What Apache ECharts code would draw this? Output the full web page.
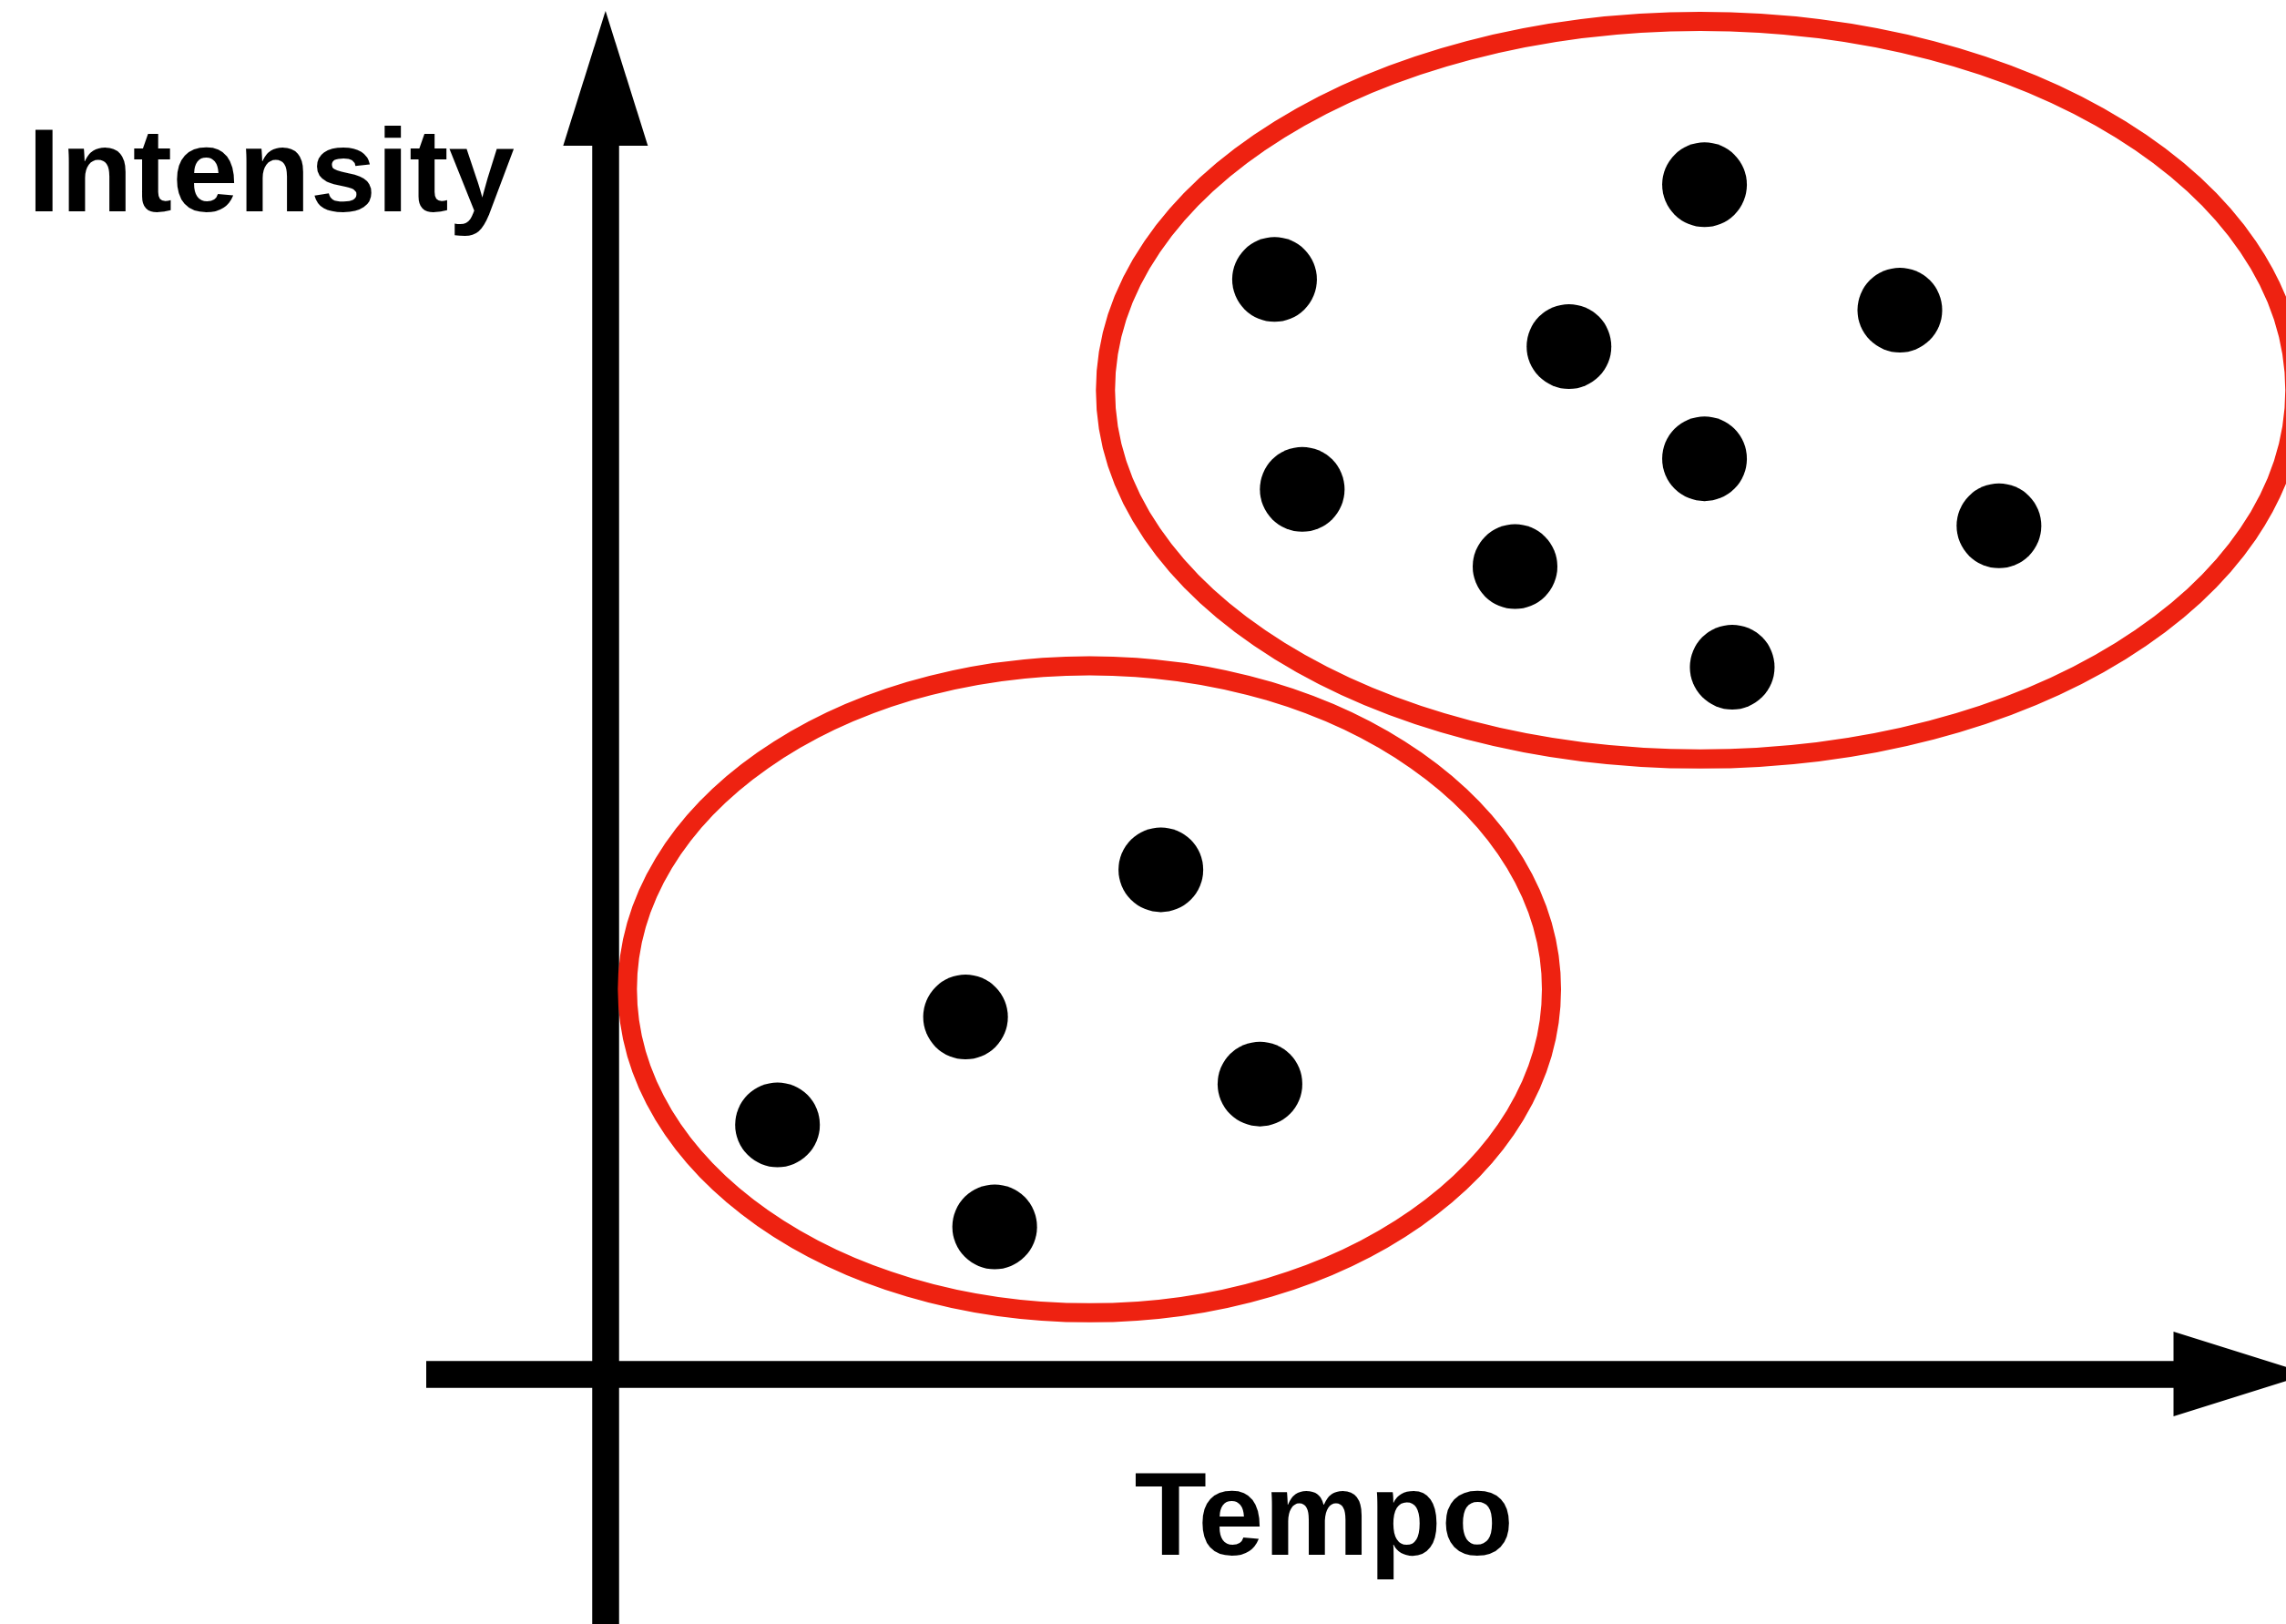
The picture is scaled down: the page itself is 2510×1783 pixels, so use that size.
<!DOCTYPE html>
<html>
<head>
<meta charset="utf-8">
<script src="https://cdn.jsdelivr.net/npm/echarts@6/dist/echarts.min.js"></script>
<style>
html, body { margin: 0; padding: 0; background: #ffffff; }
#chart { width: 2510px; height: 1783px; }
</style>
</head>
<body>
<div id="chart"></div>
<script>
// ---- data ----
const xAxisName = 'Tempo';
const yAxisName = 'Intensity';
const upperClusterPoints = [
  [45.9, 75.1], [75.4, 81.6], [88.8, 73.0], [66.1, 70.5], [47.8, 60.7],
  [75.4, 62.8], [62.4, 55.4], [77.3, 48.5], [95.6, 58.2]
];
const lowerClusterPoints = [
  [38.1, 34.6], [24.7, 24.5], [11.8, 17.1], [44.9, 19.9], [26.7, 10.1]
];
// cluster outlines: centre x, centre y, half-width, half-height (data units)
const clusterEllipses = [
  [75.1, 67.5, 40.8, 25.3],
  [33.2, 26.4, 31.7, 22.2]
];
const xRange = [-12.3, 112.2];
const yRange = [-17.15, 88.9];

// ---- chart ----
const chart = echarts.init(document.getElementById('chart'), null, { renderer: 'canvas' });
const FONT = "'Liberation Sans', Arial, Helvetica, sans-serif";
const RED = '#ee2211';

const axisCommon = {
  type: 'value',
  splitLine: { show: false },
  axisTick: { show: false },
  axisLabel: { show: false },
  axisLine: {
    show: true,
    onZero: true,
    symbol: ['none', 'triangle'],
    symbolSize: [93, 148],
    lineStyle: { color: '#000000', width: 29.5, cap: 'butt' }
  }
};

chart.setOption({
  backgroundColor: '#ffffff',
  animation: false,
  grid: {
    left: 468, right: 49.5, top: 86, bottom: 0,
    containLabel: false,
    outerBoundsMode: 'none'
  },
  xAxis: Object.assign({}, axisCommon, {
    min: xRange[0], max: xRange[1],
    name: xAxisName,
    nameLocation: 'middle',
    nameGap: -177,
    nameTextStyle: {
      fontFamily: FONT, fontWeight: 'bold', fontSize: 130, color: '#000000',
      verticalAlign: 'top',
      padding: [0, 21, 0, 0]
    }
  }),
  yAxis: Object.assign({}, axisCommon, {
    min: yRange[0], max: yRange[1],
    name: yAxisName,
    nameLocation: 'end',
    nameGap: -45,
    nameTextStyle: {
      fontFamily: FONT, fontWeight: 'bold', fontSize: 130, color: '#000000',
      align: 'right', verticalAlign: 'top',
      padding: [0, 100, 0, 0]
    }
  }),
  series: [
    {
      type: 'custom',
      name: 'clusters',
      coordinateSystem: 'cartesian2d',
      clip: false,
      silent: true,
      data: clusterEllipses,
      encode: { x: 0, y: 1 },
      renderItem: function (params, api) {
        const c = api.coord([api.value(0), api.value(1)]);
        const s = api.size([api.value(2), api.value(3)]);
        return {
          type: 'ellipse',
          shape: { cx: c[0], cy: c[1], rx: s[0], ry: s[1] },
          style: { fill: null, stroke: RED, lineWidth: 21 }
        };
      },
      z: 3
    },
    {
      type: 'scatter',
      name: 'upper',
      data: upperClusterPoints,
      symbol: 'circle',
      symbolSize: 93,
      itemStyle: { color: '#000000', opacity: 1 },
      z: 4
    },
    {
      type: 'scatter',
      name: 'lower',
      data: lowerClusterPoints,
      symbol: 'circle',
      symbolSize: 93,
      itemStyle: { color: '#000000', opacity: 1 },
      z: 4
    }
  ]
});
</script>
</body>
</html>
